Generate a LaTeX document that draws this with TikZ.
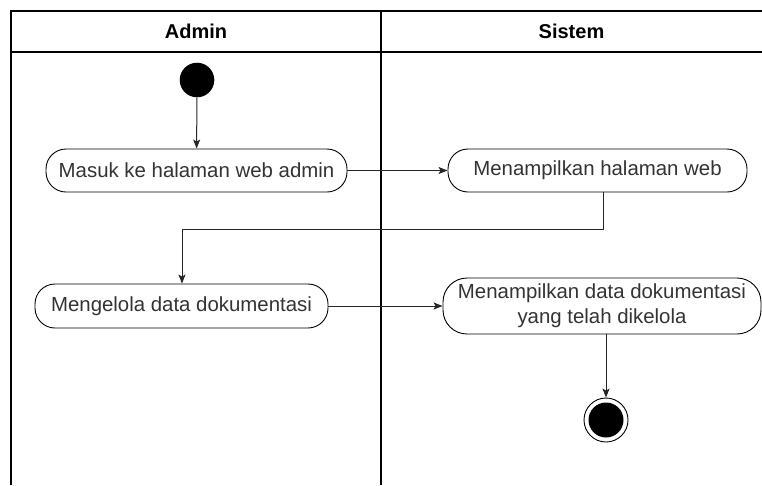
\documentclass[tikz,border=0pt]{standalone}
\usepackage{fontspec}
\setmainfont{Liberation Sans}
\usetikzlibrary{arrows.meta}
\definecolor{txt}{HTML}{333333}
\begin{document}
\begin{tikzpicture}[x=1pt,y=-1pt,
  frame/.style={line width=1.3pt,black},
  act/.style={draw=black,line width=0.9pt,rounded corners=20pt,inner sep=0pt,
    text=txt,font=\fontsize{20.4}{25}\selectfont,align=center},
  flow/.style={line width=1pt,color=black!85,-{Stealth[length=9pt,width=7pt,inset=2pt]}},
  lane/.style={font=\fontsize{20}{24}\selectfont\bfseries,text=black}]
\useasboundingbox (0,0) rectangle (762,485);
% swimlane frame
\draw[frame] (11,485) -- (11,11) -- (762,11);
\draw[frame] (11,52) -- (762,52);
\draw[frame] (381,11) -- (381,485);
\node[lane] (hA) at (196,31.5) {Admin};
\node[lane] (hS) at (571.5,31.5) {Sistem};
% start
\node[circle,fill=black,minimum size=34.6pt,inner sep=0pt] (start) at (197,80) {};
% activities
\node[act,minimum width=301pt,minimum height=43pt] (n1) at (196.5,170.5) {Masuk ke halaman web admin};
\node[act,minimum width=299pt,minimum height=43pt] (n2) at (597.5,170.5) {Menampilkan halaman web};
\node[act,minimum width=293pt,minimum height=44pt] (n3) at (181.5,306) {Mengelola data dokumentasi};
\node[act,minimum width=318pt,minimum height=56pt,rounded corners=24pt] (n4) at (602,306) {Menampilkan data dokumentasi\\yang telah dikelola};
% end
\node[circle,draw=black,line width=0.9pt,minimum size=44pt,inner sep=0pt] (end) at (606,420) {};
\node[circle,fill=black,minimum size=35pt,inner sep=0pt] (endin) at (end.center) {};
% connectors
\coordinate (b1) at (603,229);
\coordinate (b2) at (182,229);
\coordinate (d1) at (606,335);
\draw[flow] (start) -- (n1);
\draw[flow] (n1) -- (n2);
\draw[flow] (b1 |- n2.south) -- (b1) -- (b2) -- (b2 |- n3.north);
\draw[flow] (n3) -- (n4);
\draw[flow] (d1 |- n4.south) -- (end.north);
\end{tikzpicture}
\end{document}
